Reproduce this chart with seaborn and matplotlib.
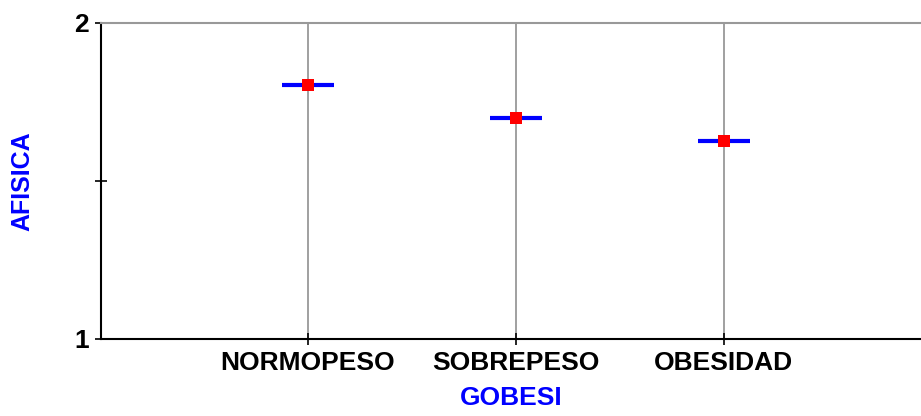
import matplotlib
matplotlib.use("Agg")
import matplotlib.pyplot as plt
import seaborn as sns
import pandas as pd

categories = ["NORMOPESO", "SOBREPESO", "OBESIDAD"]
means = [1.804, 1.700, 1.628]

df = pd.DataFrame({"GOBESI": categories, "AFISICA": means})

sns.set_style("white")
plt.rcParams["font.family"] = ["Liberation Sans", "DejaVu Sans"]

fig = plt.figure(figsize=(9.21, 4.16), dpi=100)
ax = fig.add_axes([101 / 921, 1 - 339 / 416, 1 - 101 / 921, (339 - 23) / 416])

sns.scatterplot(data=df, x="GOBESI", y="AFISICA", marker="_", s=37 ** 2,
                color="#0000ff", linewidth=3.0, ax=ax, zorder=3)
sns.scatterplot(data=df, x="GOBESI", y="AFISICA", marker="s", s=8.5 ** 2,
                color="#ff0000", linewidth=0, ax=ax, zorder=4)

ax.set_xlim(-0.995, 2.95)
ax.set_ylim(1, 2)
ax.set_yticks([1, 2])
ax.set_yticklabels(["1", "2"])
ax.set_yticks([1.5], minor=True)
ax.xaxis.grid(True, color="#999999", linewidth=1.3)
ax.yaxis.grid(False)

for lab in ax.get_xticklabels() + ax.get_yticklabels():
    lab.set_fontweight("bold")
    lab.set_fontsize(19)
    lab.set_color("black")

ax.tick_params(axis="both", which="both", direction="inout", length=9, width=1.2,
               color="black", left=True, bottom=True)
ax.tick_params(axis="x", pad=4)
ax.tick_params(axis="y", pad=4)

ax.spines["right"].set_visible(False)
ax.spines["top"].set_color("#999999")
ax.spines["top"].set_linewidth(1.5)
ax.spines["left"].set_color("black")
ax.spines["bottom"].set_color("black")
ax.spines["left"].set_linewidth(1.5)
ax.spines["bottom"].set_linewidth(1.5)

ax.set_xlabel("GOBESI", color="#0000ff", fontweight="bold", fontsize=19, labelpad=8)
ax.set_ylabel("AFISICA", color="#0000ff", fontweight="bold", fontsize=18, labelpad=45)
ax.yaxis.set_label_coords(-(101 - 34) / 820, 0.5)

fig.savefig("out.png", dpi=100)
